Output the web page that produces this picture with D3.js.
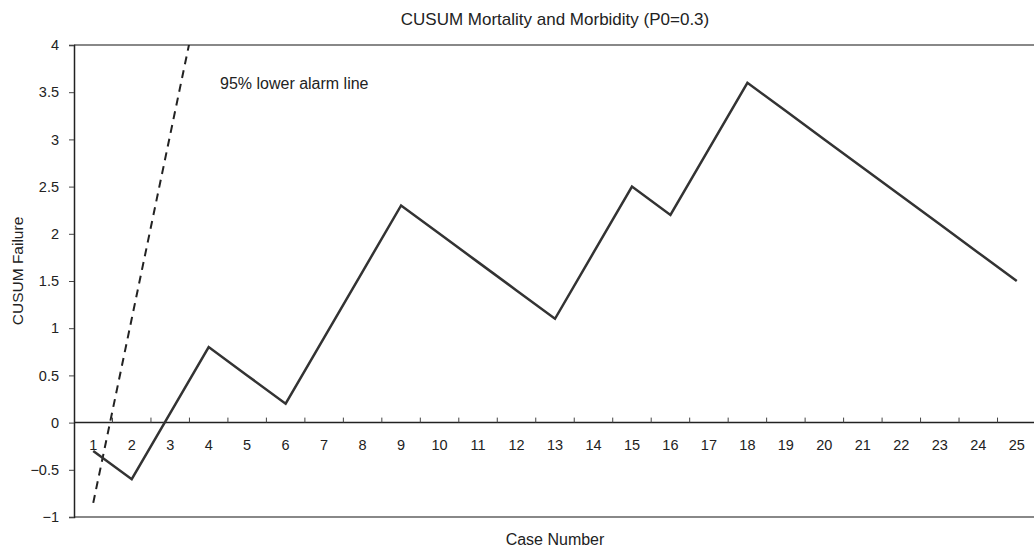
<!DOCTYPE html>
<html>
<head>
<meta charset="utf-8">
<script src="https://cdn.jsdelivr.net/npm/d3@7"></script>
<style>
  body { margin: 0; background: #fff; }
  text { font-family: "Liberation Sans", Arial, sans-serif; fill: #222; }
</style>
</head>
<body>
<script>
const cases = d3.range(1, 26).map(String);
const cusum = [-0.3, -0.6, 0.1, 0.8, 0.5, 0.2, 0.9, 1.6, 2.3, 2.0, 1.7, 1.4, 1.1,
               1.8, 2.5, 2.2, 2.9, 3.6, 3.3, 3.0, 2.7, 2.4, 2.1, 1.8, 1.5];
const alarmCases = ["1", "2", "3", "4"];
const alarm = [-0.85, 1.1, 3.05, 5.0];
const yTicks = [-1, -0.5, 0, 0.5, 1, 1.5, 2, 2.5, 3, 3.5, 4];

const svgWidth = 1034;
const svgHeight = 549;
const margin = { left: 74, top: 45, right: -2, bottom: 32 };
const chartWidth = svgWidth - margin.left - margin.right;
const chartHeight = svgHeight - margin.top - margin.bottom;

const svg = d3.select("body").append("svg")
    .attr("width", svgWidth)
    .attr("height", svgHeight);

const chart = svg.append("g")
    .attr("transform", `translate(${margin.left},${margin.top})`);

const xScale = d3.scaleBand().domain(cases).range([0, chartWidth]);
const yScale = d3.scaleLinear().domain([-1, 4]).range([chartHeight, 0]);
const xPos = c => xScale(c) + xScale.bandwidth() / 2;

svg.append("defs").append("clipPath").attr("id", "plot")
    .append("rect").attr("width", chartWidth).attr("height", chartHeight);

// frame top / bottom
chart.append("line")
    .attr("x1", 0).attr("x2", chartWidth).attr("y1", 0).attr("y2", 0)
    .attr("stroke", "#888").attr("stroke-width", 2);
chart.append("line")
    .attr("x1", 0).attr("x2", chartWidth).attr("y1", chartHeight).attr("y2", chartHeight)
    .attr("stroke", "#888").attr("stroke-width", 2);

// y axis
const leftAxis = d3.axisLeft(yScale)
    .tickValues(yTicks)
    .tickSize(5)
    .tickPadding(10)
    .tickFormat(d => d < 0 ? "\u2212" + Math.abs(d) : d);
const yAxis = chart.append("g").call(leftAxis);
yAxis.select(".domain").attr("stroke", "#222").attr("stroke-width", 1.5);
yAxis.selectAll(".tick line").attr("stroke", "#444");
yAxis.selectAll("text").style("font-size", "14.5px").attr("fill", "#222");

// x axis at zero, ticks between categories pointing up
const zeroY = yScale(0);
chart.append("line")
    .attr("x1", 0).attr("x2", chartWidth).attr("y1", zeroY).attr("y2", zeroY)
    .attr("stroke", "#222").attr("stroke-width", 1.5);
chart.selectAll(".xtick")
    .data(cases.slice(1))
    .enter().append("line")
    .attr("x1", d => xScale(d)).attr("x2", d => xScale(d))
    .attr("y1", zeroY).attr("y2", zeroY - 5)
    .attr("stroke", "#444");
chart.selectAll(".xlabel")
    .data(cases)
    .enter().append("text")
    .attr("x", xPos)
    .attr("y", zeroY + 27)
    .attr("text-anchor", "middle")
    .style("font-size", "14.5px")
    .text(d => d);

// alarm line
const line = d3.line().x(d => xPos(d[0])).y(d => yScale(d[1]));
chart.append("path")
    .datum(alarmCases.map((c, i) => [c, alarm[i]]))
    .attr("clip-path", "url(#plot)")
    .attr("d", line)
    .attr("fill", "none")
    .attr("stroke", "#222")
    .attr("stroke-width", 2)
    .attr("stroke-dasharray", "8,6");

// cusum line
chart.append("path")
    .datum(cases.map((c, i) => [c, cusum[i]]))
    .attr("d", line)
    .attr("fill", "none")
    .attr("stroke", "#333")
    .attr("stroke-width", 2.5)
    .attr("stroke-linejoin", "miter");

// labels
chart.append("text")
    .attr("x", 146).attr("y", 44)
    .style("font-size", "16px")
    .text("95% lower alarm line");

const midX = margin.left + chartWidth / 2;
svg.append("text")
    .attr("x", midX).attr("y", 25)
    .attr("text-anchor", "middle")
    .style("font-size", "17px")
    .text("CUSUM Mortality and Morbidity (P0=0.3)");

svg.append("text")
    .attr("x", midX).attr("y", 545)
    .attr("text-anchor", "middle")
    .style("font-size", "16px")
    .text("Case Number");

svg.append("text")
    .attr("transform", `translate(23,${271}) rotate(-90)`)
    .attr("text-anchor", "middle")
    .style("font-size", "15.5px")
    .text("CUSUM Failure");
</script>
</body>
</html>
